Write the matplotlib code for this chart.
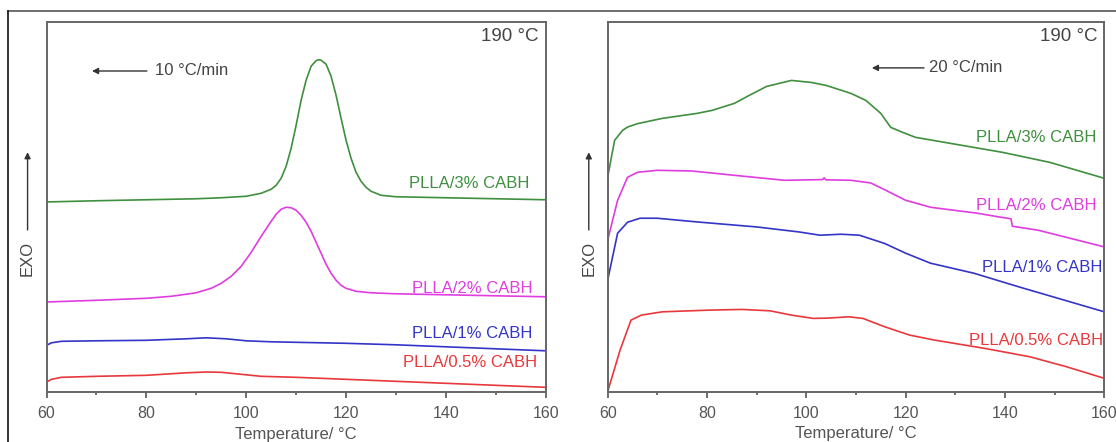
#!/usr/bin/env python3
# DSC cooling curves, PLLA/CABH, 190 °C melt, 10 and 20 °C/min
import matplotlib
matplotlib.use("Agg")
import matplotlib.pyplot as plt
from matplotlib.lines import Line2D

plt.rcParams['font.family'] = ['Liberation Sans', 'DejaVu Sans']

# ---- data (heat flow, arbitrary units) ----
# 10 °C/min
t_g10 = [60, 70, 80, 90, 95, 100, 103, 105, 106, 107, 108, 109, 110, 111, 112, 113, 114, 114.5,
         115, 116, 117, 118, 119, 120, 121, 122, 123, 124, 125, 127, 130, 140, 150, 160]
h_g10 = [190.3, 191.5, 192.5, 193.5, 194.5, 196, 199, 203, 207, 214, 226, 244, 267, 292, 312, 326, 331.5, 332.5,
         332, 328, 316, 297, 274, 252, 234, 220, 211, 205, 201, 197, 195.5, 194.5, 193.5, 192.5]

t_m10 = [60, 70, 80, 85, 90, 93, 95, 97, 99, 101, 103, 105, 106, 107, 108, 109, 110, 111, 112,
         113, 114, 115, 116, 117, 118, 119, 120, 122, 125, 130, 140, 150, 160]
h_m10 = [90.3, 92, 94, 96, 99.5, 104, 109, 116, 126, 140, 156, 171, 178, 183, 185, 184.5, 182, 177, 170,
         161, 150, 139, 128, 119, 112, 107, 104, 101, 99.5, 98.5, 97.5, 96.5, 95.5]

t_b10 = [60, 61, 63, 70, 80, 88, 92, 96, 100, 105, 110, 120, 130, 140, 150, 160]
h_b10 = [47, 49.5, 51, 51.5, 52, 53.5, 54.5, 53.5, 51.5, 50.5, 50, 49, 47.5, 45.5, 43.5, 41.5]

t_r10 = [60, 61, 63, 70, 80, 88, 92, 95, 98, 103, 110, 120, 130, 140, 150, 160]
h_r10 = [10.3, 13, 15, 16, 17, 19.5, 20.3, 20, 18.5, 16, 15, 13, 11, 9, 7, 5]

# 20 °C/min
t_g20 = [60, 61.4, 63, 64, 66, 71, 78, 81, 85.5, 88.5, 92, 97, 101, 104, 109, 112, 115, 117,
         119.4, 122, 129, 139.5, 149, 160]
h_g20 = [215.3, 252, 262, 265.3, 268.7, 274, 279, 282, 289, 297, 306, 312, 310, 307, 299, 292, 279, 265,
         260, 255, 249, 240, 230, 214]

t_m20 = [60, 62, 64, 66, 70, 77, 85.5, 95.6, 103.3, 103.6, 103.9, 109, 113, 116, 120, 125, 134.5,
         138.8, 141.2, 141.5, 146.7, 160]
h_m20 = [152, 192, 215, 220, 222, 221.3, 217, 212, 212.7, 214.5, 212.5, 212, 209.3, 202, 192, 185, 179,
         175.3, 173.5, 166, 162, 145.3]

t_b20 = [60, 62, 64, 66.5, 70, 78, 90, 98.5, 102.8, 107, 110.7, 115.8, 120, 125, 133.7, 143, 160]
h_b20 = [112, 159, 170, 174, 174, 170.3, 165.3, 160.3, 157, 158, 157, 148.7, 139, 129, 119, 105, 80.3]

t_r20 = [60, 62.5, 64.7, 66.8, 71, 80.5, 87, 92.7, 97, 101.4, 104.3, 108.6, 111.4, 115.8, 120.8,
         125.8, 135.9, 145, 152.4, 160]
h_r20 = [0.3, 42, 72, 77, 80.3, 82, 82.7, 81.3, 77, 73.7, 74, 75.3, 73.7, 65.3, 57,
         52, 43.7, 35.3, 25.3, 13.7]

labels = ['PLLA/3% CABH', 'PLLA/2% CABH', 'PLLA/1% CABH', 'PLLA/0.5% CABH']
colors = ['#3f8f3f', '#e03ce0', '#3434c8', '#e8383c']

# ---- figure ----
fig = plt.figure(figsize=(11.16, 4.42), dpi=100)
ax1 = fig.add_axes([0.0417, 0.1124, 0.4473, 0.8385])
ax2 = fig.add_axes([0.5445, 0.1131, 0.4450, 0.8371])

# outer frame (top and left edge)
fig.add_artist(Line2D([8/1116, 1], [1 - 11/442, 1 - 11/442], transform=fig.transFigure,
                      color='#555555', lw=1.2))
fig.add_artist(Line2D([8/1116, 8/1116], [0, 1 - 11/442], transform=fig.transFigure,
                      color='#111111', lw=1.2))

panels = [
    (ax1, [(t_g10, h_g10), (t_m10, h_m10), (t_b10, h_b10), (t_r10, h_r10)],
     [(156.7, 209), (157.3, 104), (157.3, 59), (158.3, 30)], '10 °C/min', (0.201, 0.091, 0.217, 0.867)),
    (ax2, [(t_g20, h_g20), (t_m20, h_m20), (t_b20, h_b20), (t_r20, h_r20)],
     [(158.5, 255), (158.5, 187), (159.7, 125), (159.7, 52)], '20 °C/min', (0.637, 0.532, 0.647, 0.876)),
]

for ax, curves, lab_pos, rate, (xa0, xa1, xt, ya) in panels:
    for (t, h), col in zip(curves, colors):
        ax.plot(t, h, color=col, lw=1.2)
    for (lx, ly), lab, col in zip(lab_pos, labels, colors):
        ax.text(lx, ly, lab, color=col, fontsize=12, ha='right', va='center')

    ax.set_xlim(60, 160)
    ax.set_ylim(0, 370.5)
    ax.set_xticks([60, 80, 100, 120, 140, 160])
    ax.set_xticks([70, 90, 110, 130, 150], minor=True)
    ax.set_yticks([])
    ax.tick_params(axis='x', which='major', direction='out', length=4, width=1.2,
                   color='#555555', labelcolor='#555555', labelsize=11.5, pad=6)
    ax.tick_params(axis='x', which='minor', direction='out', length=2, width=1.2, color='#555555')
    for sp in ax.spines.values():
        sp.set_color('#666666')
        sp.set_linewidth(1.4)
    ax.set_xlabel('Temperature/ °C', fontsize=12, color='#555555', labelpad=4)

    ax.text(0.986, 0.96, '190 °C', transform=ax.transAxes, fontsize=13.5,
            color='#444444', ha='right', va='center')
    ax.annotate('', xy=(xa1, ya), xytext=(xa0, ya), xycoords='axes fraction',
                arrowprops=dict(arrowstyle='-|>', color='#333333', lw=1.0,
                                mutation_scale=9, shrinkA=0, shrinkB=0))
    ax.text(xt, ya, rate, transform=ax.transAxes, fontsize=12, color='#444444',
            ha='left', va='center')

    # EXO arrow
    ax.annotate('', xy=(-0.038, 0.648), xytext=(-0.038, 0.438), xycoords='axes fraction',
                arrowprops=dict(arrowstyle='-|>', color='#333333', lw=1.0,
                                mutation_scale=9, shrinkA=0, shrinkB=0), annotation_clip=False)
    ax.text(-0.038, 0.362, 'EXO', transform=ax.transAxes, fontsize=12, color='#444444',
            rotation=90, ha='center', va='center')

fig.savefig('out.png', dpi=100)
